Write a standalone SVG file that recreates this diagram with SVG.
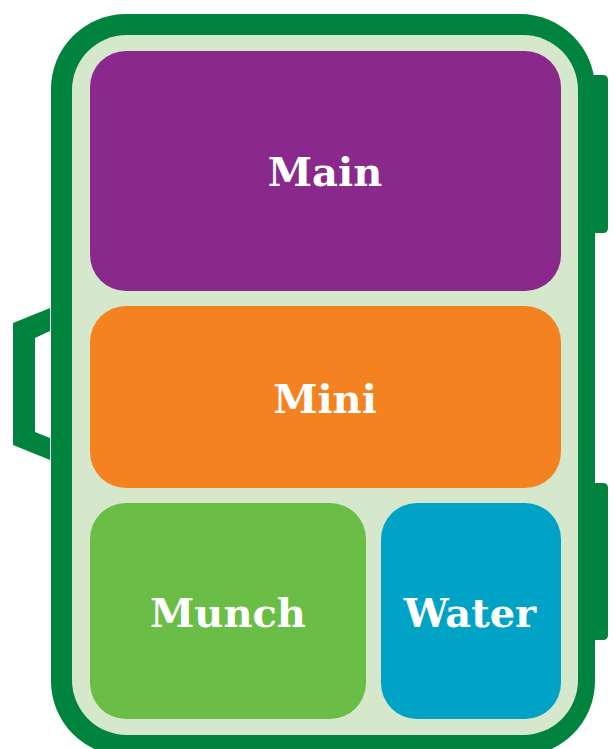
<svg xmlns="http://www.w3.org/2000/svg" width="614" height="749" viewBox="0 0 614 749">
<style>
.lbl{font-family:"DejaVu Serif","Liberation Serif",serif;font-weight:bold;font-size:40px;fill:#ffffff;text-anchor:middle}
.dk{fill:#00843d}
</style>
<g id="box">
<path class="dk" fill-rule="evenodd" d="M50,308 L13,323 L13,445 L50,460 Z M50,331 L35,338 L35,432 L50,438 Z"/>
<path class="dk" d="M590,75 H603 Q608,75 608,80 V228 Q608,233 603,233 H590 Z"/>
<path class="dk" d="M590,483 H603 Q608,483 608,488 V635 Q608,640 603,640 H590 Z"/>
<rect class="dk" x="51" y="14" width="544" height="742" rx="75"/>
<rect x="72" y="35" width="506" height="700" rx="55" fill="#d6e8cc"/>
</g>
<g id="main">
<rect x="90" y="51" width="471" height="240" rx="36" fill="#8a288c"/>
<text class="lbl" x="325" y="186">Main</text>
</g>
<g id="mini">
<rect x="90" y="306" width="471" height="182" rx="36" fill="#f48221"/>
<text class="lbl" x="325" y="413">Mini</text>
</g>
<g id="munch">
<rect x="90" y="503" width="276" height="216" rx="36" fill="#6abd45"/>
<text class="lbl" x="228" y="627">Munch</text>
</g>
<g id="water">
<rect x="381" y="503" width="180" height="216" rx="36" fill="#00a3c6"/>
<text class="lbl" x="470" y="627">Water</text>
</g>
<g id="connectors"/>
</svg>
